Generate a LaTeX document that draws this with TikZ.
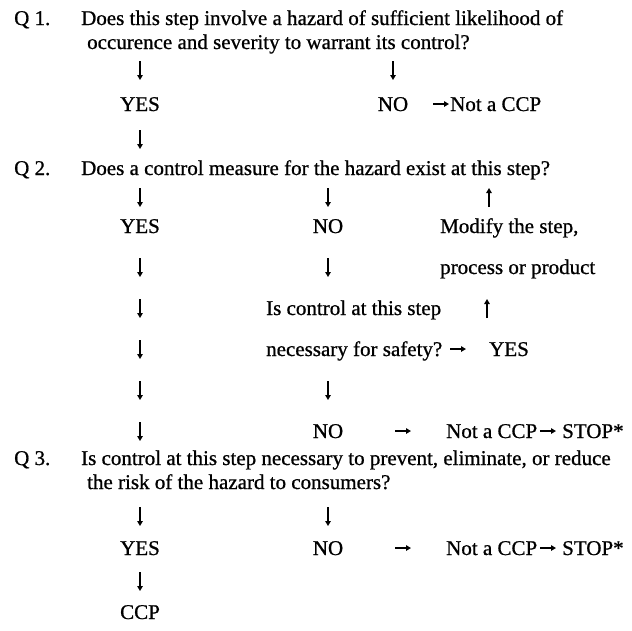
\documentclass[tikz,border=0pt]{standalone}
\usepackage{fontspec}
\setmainfont{Liberation Serif}[FakeBold=0.8]
\usetikzlibrary{arrows.meta}
\tikzset{
  txt/.style={anchor=base west, inner sep=0pt, font=\fontsize{21}{25}\selectfont},
  ctxt/.style={anchor=base, inner sep=0pt, font=\fontsize{21}{25}\selectfont},
  arr/.style={line width=1.9pt, -{Triangle[length=5pt,width=5.5pt]}},
}
\begin{document}
\begin{tikzpicture}[x=1pt,y=-1pt]
\useasboundingbox (0,0) rectangle (632,630);
% ---------- Q1 ----------
\node[txt] (q1lab) at (14,25) {Q 1.};
\node[txt] (q1a) at (81,25) {Does this step involve a hazard of sufficient likelihood of};
\node[txt] (q1b) at (87,49) {occurence and severity to warrant its control?};
\coordinate (a1s) at (140,61); \coordinate (a1e) at (140,80);
\coordinate (a2s) at (393,61); \coordinate (a2e) at (393,80);
\draw[arr] (a1s) -- (a1e);
\draw[arr] (a2s) -- (a2e);
\node[ctxt] (yes1) at (140,111) {YES};
\node[ctxt] (no1) at (393,111) {NO};
\coordinate (h1s) at (433,104); \coordinate (h1e) at (449,104);
\draw[arr] (h1s) -- (h1e);
\node[txt] (ncp1) at (450,111) {Not a CCP};
\coordinate (a3s) at (140,130); \coordinate (a3e) at (140,149);
\draw[arr] (a3s) -- (a3e);
% ---------- Q2 ----------
\node[txt] (q2lab) at (14,175) {Q 2.};
\node[txt] (q2a) at (81,175) {Does a control measure for the hazard exist at this step?};
\coordinate (b1s) at (140,188); \coordinate (b1e) at (140,207);
\coordinate (b2s) at (328,188); \coordinate (b2e) at (328,207);
\coordinate (b3s) at (489,207); \coordinate (b3e) at (489,188);
\draw[arr] (b1s) -- (b1e);
\draw[arr] (b2s) -- (b2e);
\draw[arr] (b3s) -- (b3e);
\node[ctxt] (yes2) at (140,233) {YES};
\node[ctxt] (no2) at (328,233) {NO};
\node[txt] (mod) at (440,233) {Modify the step,};
\coordinate (c1s) at (140,258); \coordinate (c1e) at (140,277);
\coordinate (c2s) at (328,258); \coordinate (c2e) at (328,277);
\draw[arr] (c1s) -- (c1e);
\draw[arr] (c2s) -- (c2e);
\node[txt] (proc) at (440,274) {process or product};
\coordinate (d1s) at (140,299); \coordinate (d1e) at (140,318);
\draw[arr] (d1s) -- (d1e);
\node[txt] (isc) at (266,315) {Is control at this step};
\coordinate (d2s) at (487,318); \coordinate (d2e) at (487,299);
\draw[arr] (d2s) -- (d2e);
\coordinate (e1s) at (140,340); \coordinate (e1e) at (140,359);
\draw[arr] (e1s) -- (e1e);
\node[txt] (nec) at (266,356) {necessary for safety?};
\coordinate (h2s) at (450,349); \coordinate (h2e) at (466,349);
\draw[arr] (h2s) -- (h2e);
\node[txt] (yes3) at (489,356) {YES};
\coordinate (f1s) at (140,381); \coordinate (f1e) at (140,400);
\coordinate (f2s) at (328,381); \coordinate (f2e) at (328,400);
\draw[arr] (f1s) -- (f1e);
\draw[arr] (f2s) -- (f2e);
\coordinate (g1s) at (140,422); \coordinate (g1e) at (140,441);
\draw[arr] (g1s) -- (g1e);
\node[ctxt] (no3) at (328,438) {NO};
\coordinate (h3s) at (395,431); \coordinate (h3e) at (411,431);
\draw[arr] (h3s) -- (h3e);
\node[txt] (ncp2) at (446,438) {Not a CCP};
\coordinate (h4s) at (540,431); \coordinate (h4e) at (556,431);
\draw[arr] (h4s) -- (h4e);
\node[txt] (stop1) at (562,438) {STOP*};
% ---------- Q3 ----------
\node[txt] (q3lab) at (14,465) {Q 3.};
\node[txt] (q3a) at (81,465) {Is control at this step necessary to prevent, eliminate, or reduce};
\node[txt] (q3b) at (87,489) {the risk of the hazard to consumers?};
\coordinate (i1s) at (140,507); \coordinate (i1e) at (140,526);
\coordinate (i2s) at (328,507); \coordinate (i2e) at (328,526);
\draw[arr] (i1s) -- (i1e);
\draw[arr] (i2s) -- (i2e);
\node[ctxt] (yes4) at (140,555) {YES};
\node[ctxt] (no4) at (328,555) {NO};
\coordinate (h5s) at (395,548); \coordinate (h5e) at (411,548);
\draw[arr] (h5s) -- (h5e);
\node[txt] (ncp3) at (446,555) {Not a CCP};
\coordinate (h6s) at (540,548); \coordinate (h6e) at (556,548);
\draw[arr] (h6s) -- (h6e);
\node[txt] (stop2) at (562,555) {STOP*};
\coordinate (j1s) at (140,572); \coordinate (j1e) at (140,591);
\draw[arr] (j1s) -- (j1e);
\node[ctxt] (ccp) at (140,619) {CCP};
\end{tikzpicture}
\end{document}
